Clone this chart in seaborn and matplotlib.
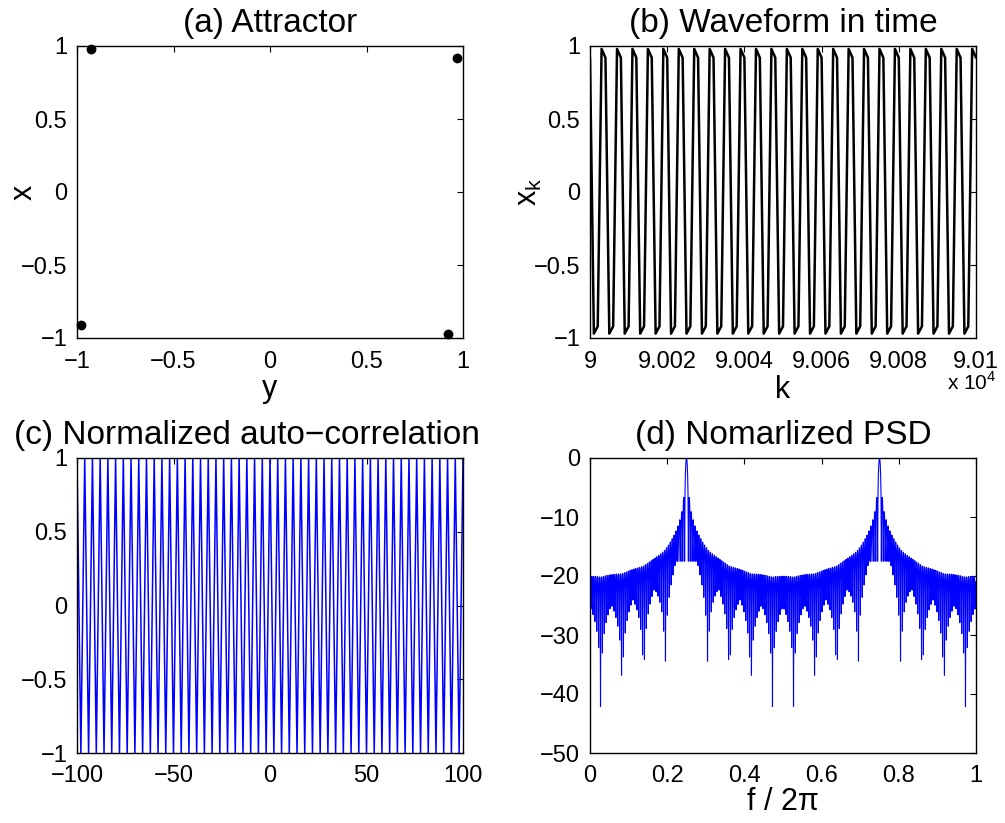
import numpy as np
import pandas as pd
import matplotlib
matplotlib.use("Agg")
import matplotlib.pyplot as plt
from matplotlib.ticker import FuncFormatter, FixedLocator
import seaborn as sns

# ---------------- data ----------------
# (a) attractor: period-4 orbit, horizontal = y, vertical = x
attr_y = [-0.93, 0.97, -0.98, 0.92]
attr_x = [0.98, 0.92, -0.91, -0.97]

# (b) waveform: k from 90000 to 90100, repeating 4-cycle of x_k
k_vals = np.arange(90000, 90101)
wave_cycle = [0.92, -0.97, -0.92, 0.98]          # x_k at k = 90000, 90001, 90002, 90003, ...
x_k = np.resize(wave_cycle, k_vals.size)

# (c) normalized auto-correlation over lags -100..100 (4-cycle)
lags = np.arange(-100, 101)
acf_cycle = [1.0, 0.0, -1.0, 0.0]
acf = np.resize(acf_cycle, lags.size)

# (d) normalized PSD: periodogram of the auto-correlation above
NFFT = 1028
psd_mag = np.abs(np.fft.fft(acf, NFFT))
psd_db = 10 * np.log10(np.maximum(psd_mag, 1e-12) / psd_mag.max())
freq = np.arange(NFFT) / NFFT

# ticks
ticks_unit = [-1, -0.5, 0, 0.5, 1]
ticks_k = [90000, 90020, 90040, 90060, 90080, 90100]
ticks_lag = [-100, -50, 0, 50, 100]
ticks_f = [0, 0.2, 0.4, 0.6, 0.8, 1]
ticks_db = [-50, -40, -30, -20, -10, 0]

titles = ["(a) Attractor", "(b) Waveform in time",
          "(c) Normalized auto\u2212correlation", "(d) Nomarlized PSD"]

# ---------------- style ----------------
sns.set_theme(style="white")
plt.rcParams['font.family'] = ['Liberation Sans', 'DejaVu Sans']
plt.rcParams['axes.edgecolor'] = 'black'
plt.rcParams['axes.linewidth'] = 1.0
plt.rcParams['axes.unicode_minus'] = True

W, H = 1005, 823
fig = plt.figure(figsize=(W / 100, H / 100), dpi=100)
fig.patch.set_facecolor('white')

def box(l, t, r, b):
    return [l / W, (H - b) / H, (r - l) / W, (b - t) / H]

ax_a = fig.add_axes(box(77, 46, 463, 338))
ax_b = fig.add_axes(box(590, 46, 976, 338))
ax_c = fig.add_axes(box(77, 458, 463, 753))
ax_d = fig.add_axes(box(590, 458, 976, 753))

fmt = FuncFormatter(lambda v, p: f"{v:g}".replace("-", "\u2212"))

TICK_FS = 17
TITLE_FS = 24
LABEL_FS = 22

def style(ax, title, tx=0.5):
    ax.set_facecolor('white')
    ax.tick_params(direction='in', top=True, right=True, length=4, width=0.8,
                   labelsize=TICK_FS, colors='black')
    ax.tick_params(axis='y', pad=7)
    ax.tick_params(axis='x', pad=9)
    for s in ax.spines.values():
        s.set_visible(True)
        s.set_color('black')
        s.set_linewidth(1.0)
    ax.set_title(title, fontsize=TITLE_FS, pad=10, color='black', x=tx)

# (a)
df_a = pd.DataFrame({'y': attr_y, 'x': attr_x})
sns.scatterplot(data=df_a, x='y', y='x', ax=ax_a, color='black', s=50,
                edgecolor='black', linewidth=0, zorder=3, clip_on=False)
ax_a.set_xlim(-1, 1)
ax_a.set_ylim(-1, 1)
ax_a.xaxis.set_major_locator(FixedLocator(ticks_unit))
ax_a.yaxis.set_major_locator(FixedLocator(ticks_unit))
ax_a.xaxis.set_major_formatter(fmt)
ax_a.yaxis.set_major_formatter(fmt)
style(ax_a, titles[0])
ax_a.set_xlabel('y', fontsize=LABEL_FS, color='black')
ax_a.set_ylabel('x', fontsize=LABEL_FS, color='black')
ax_a.xaxis.set_label_coords(0.5, -0.125)
ax_a.yaxis.set_label_coords(-0.10, 0.5)

# (b)
df_b = pd.DataFrame({'k': k_vals, 'xk': x_k})
sns.lineplot(data=df_b, x='k', y='xk', ax=ax_b, color='black', lw=1.8,
             estimator=None, sort=False)
ax_b.set_xlim(90000, 90100)
ax_b.set_ylim(-1, 1)
ax_b.xaxis.set_major_locator(FixedLocator(ticks_k))
ax_b.xaxis.set_major_formatter(FuncFormatter(lambda v, p: f"{v / 1e4:g}"))
ax_b.yaxis.set_major_locator(FixedLocator(ticks_unit))
ax_b.yaxis.set_major_formatter(fmt)
style(ax_b, titles[1])
ax_b.set_xlabel('k', fontsize=LABEL_FS, color='black')
ax_b.set_ylabel('x$_\\mathregular{k}$', fontsize=LABEL_FS, color='black')
ax_b.xaxis.set_label_coords(0.5, -0.125)
ax_b.yaxis.set_label_coords(-0.12, 0.5)
ax_b.text(0.99, -0.115, 'x 10$^\\mathregular{4}$', transform=ax_b.transAxes,
          ha='center', va='top', fontsize=15, color='black')

# (c)
df_c = pd.DataFrame({'lag': lags, 'acf': acf})
sns.lineplot(data=df_c, x='lag', y='acf', ax=ax_c, color='blue', lw=1.1,
             estimator=None, sort=False)
ax_c.set_xlim(-100, 100)
ax_c.set_ylim(-1, 1)
ax_c.xaxis.set_major_locator(FixedLocator(ticks_lag))
ax_c.yaxis.set_major_locator(FixedLocator(ticks_unit))
ax_c.xaxis.set_major_formatter(fmt)
ax_c.yaxis.set_major_formatter(fmt)
style(ax_c, titles[2], tx=0.44)
ax_c.set_xlabel('')
ax_c.set_ylabel('')

# (d)
df_d = pd.DataFrame({'f': freq, 'p': psd_db})
sns.lineplot(data=df_d, x='f', y='p', ax=ax_d, color='blue', lw=0.8,
             estimator=None, sort=False)
ax_d.set_xlim(0, 1)
ax_d.set_ylim(-50, 0)
ax_d.xaxis.set_major_locator(FixedLocator(ticks_f))
ax_d.yaxis.set_major_locator(FixedLocator(ticks_db))
ax_d.xaxis.set_major_formatter(fmt)
ax_d.yaxis.set_major_formatter(fmt)
style(ax_d, titles[3])
ax_d.set_xlabel('f / 2\u03c0', fontsize=LABEL_FS, color='black')
ax_d.set_ylabel('')
ax_d.xaxis.set_label_coords(0.5, -0.115)

fig.savefig("out.png", dpi=100, facecolor='white')
